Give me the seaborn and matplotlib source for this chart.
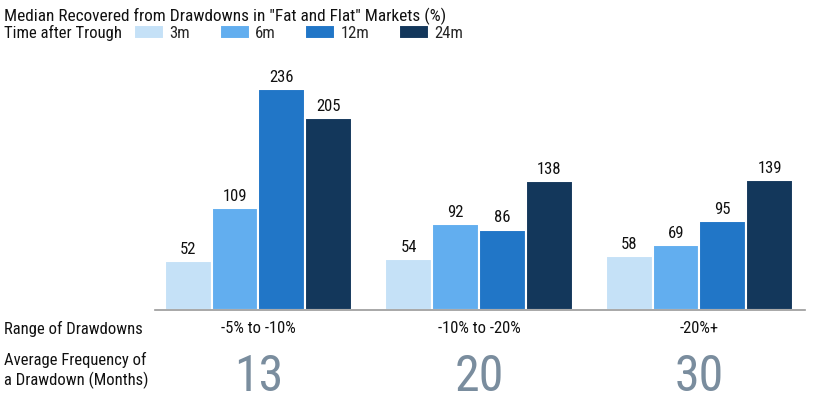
import pandas as pd
import matplotlib.pyplot as plt
import matplotlib.transforms as mtransforms
import seaborn as sns

ranges = ['-5% to -10%', '-10% to -20%', '-20%+']
periods = ['3m', '6m', '12m', '24m']
vals_3m = [52, 54, 58]
vals_6m = [109, 92, 69]
vals_12m = [236, 86, 95]
vals_24m = [205, 138, 139]
avg_freq = [13, 20, 30]
colors = ['#C5E1F7', '#62AEEF', '#2176C7', '#13375B']

rows = []
for p, vals in zip(periods, [vals_3m, vals_6m, vals_12m, vals_24m]):
    for r, v in zip(ranges, vals):
        rows.append({'range': r, 'period': p, 'value': v})
df = pd.DataFrame(rows)

sns.set_style('white')
plt.rcParams['font.family'] = ['Roboto Condensed', 'DejaVu Sans']
plt.rcParams['font.stretch'] = 'condensed'

fig = plt.figure(figsize=(8.15, 4.0), dpi=100)
ax = fig.add_axes([0.19, 0.225, 0.798, 0.585])

sns.barplot(data=df, x='range', y='value', hue='period', hue_order=periods,
            palette=colors, width=0.85, saturation=1, edgecolor='white',
            linewidth=1.5, ax=ax)

for c in ax.containers:
    ax.bar_label(c, fmt='%d', padding=3, fontsize=12, color='#111111')

ax.set_ylim(0, 250)
ax.set_xlim(-0.47, 2.48)
ax.set_xlabel('')
ax.set_ylabel('')
ax.set_yticks([])
for s in ['top', 'right', 'left']:
    ax.spines[s].set_visible(False)
ax.spines['bottom'].set_color('#999999')
ax.spines['bottom'].set_linewidth(1.2)
ax.tick_params(axis='x', length=0, pad=8, labelsize=12, labelcolor='#111111')

# legend in one row
sns.move_legend(ax, 'center left', bbox_to_anchor=(0.1644, 0.9175),
                bbox_transform=fig.transFigure, ncol=4, frameon=False,
                title=None, fontsize=12, handlelength=1.8, handleheight=0.95,
                columnspacing=1.8, handletextpad=0.3, borderpad=0,
                borderaxespad=0)

fig.text(0.005, 0.96, 'Median Recovered from Drawdowns in "Fat and Flat" Markets (%)',
         fontsize=12.4, color='#111111', va='center', ha='left')
fig.text(0.005, 0.9175, 'Time after Trough', fontsize=12, color='#111111',
         va='center', ha='left')
fig.text(0.005, 0.178, 'Range of Drawdowns', fontsize=12, color='#111111',
         va='center', ha='left')
fig.text(0.005, 0.073, 'Average Frequency of\na Drawdown (Months)', fontsize=12,
         color='#111111', va='center', ha='left', linespacing=1.25)

trans = mtransforms.blended_transform_factory(ax.transData, fig.transFigure)
for i, n in enumerate(avg_freq):
    ax.text(i, 0.022, str(n), transform=trans, ha='center', va='baseline',
            fontsize=36, color='#7A8D9E')

plt.savefig('out.png', dpi=100)
